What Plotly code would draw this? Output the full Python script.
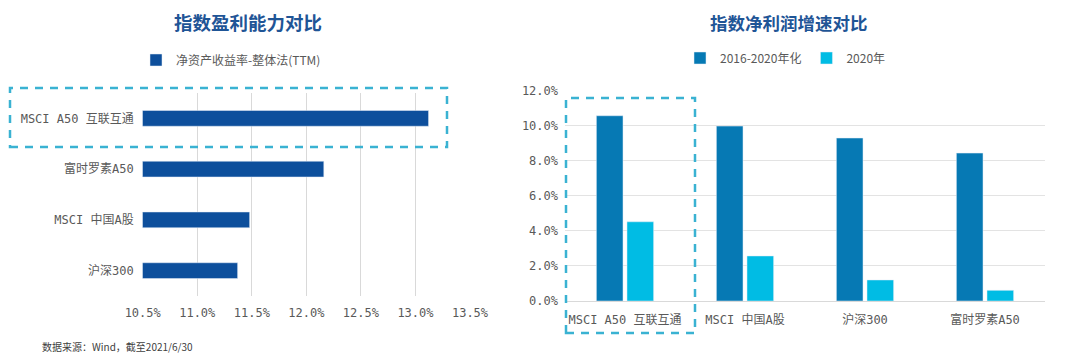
import plotly.graph_objects as go

# Left chart data
roe_categories = ["MSCI A50 互联互通", "富时罗素A50", "MSCI 中国A股", "沪深300"]
roe_values = [13.12, 12.16, 11.48, 11.37]
roe_series_name = "净资产收益率-整体法(TTM)"
roe_ticks = [10.5, 11.0, 11.5, 12.0, 12.5, 13.0, 13.5]

# Right chart data
growth_categories = ["MSCI A50 互联互通", "MSCI 中国A股", "沪深300", "富时罗素A50"]
growth_2016_2020 = [10.57, 9.98, 9.30, 8.44]
growth_2020 = [4.52, 2.57, 1.20, 0.61]
growth_series_names = ["2016-2020年化", "2020年"]
growth_ticks = [0, 2, 4, 6, 8, 10, 12]

# page body has an 8px margin: the figure starts at (8, 8) of the window
OFF = 8
W, H = 1080 - OFF, 356 - OFF
def px(x): return (x - OFF) / W
def py(y): return 1 - (y - OFF) / H

TICK_FONT = dict(family="DejaVu Sans Mono, Noto Sans CJK SC", size=12, color="#595959")
TITLE_COLOR = "#1F5596"
BOX_COLOR = "#3AB2D2"

fig = go.Figure()

fig.add_trace(go.Bar(
    x=roe_values, y=roe_categories, orientation="h",
    name=roe_series_name, marker_color="#0D4F9C", width=0.31,
    xaxis="x", yaxis="y", legend="legend",
))
fig.add_trace(go.Bar(
    x=growth_categories, y=growth_2016_2020, name=growth_series_names[0],
    marker_color="#0679B4", xaxis="x2", yaxis="y2", legend="legend2",
))
fig.add_trace(go.Bar(
    x=growth_categories, y=growth_2020, name=growth_series_names[1],
    marker_color="#00BCE4", xaxis="x2", yaxis="y2", legend="legend2",
))

fig.update_layout(
    width=W, height=H,
    margin=dict(l=0, r=0, t=0, b=0, autoexpand=False),
    paper_bgcolor="white", plot_bgcolor="white",
    barmode="group", bargap=0.49, bargroupgap=0.13,
    font=dict(family="Noto Sans CJK SC, DejaVu Sans", color="#595959"),
    xaxis=dict(
        domain=[px(142.7), px(470)], range=[10.5, 13.5],
        tickvals=roe_ticks, ticktext=[f"{v:.1f}%" for v in roe_ticks],
        showgrid=True, gridcolor="#D9D9D9", gridwidth=1,
        zeroline=False, showline=False, ticks="", automargin=False,
        tickfont=TICK_FONT, ticklabelstandoff=8, anchor="y",
    ),
    yaxis=dict(
        domain=[py(296), py(93)], autorange="reversed",
        showgrid=False, zeroline=False, showline=False, ticks="", automargin=False,
        tickfont=TICK_FONT, ticklabelstandoff=8, anchor="x",
    ),
    xaxis2=dict(
        domain=[px(565), px(1045)],
        showgrid=False, zeroline=False, showline=False, ticks="", automargin=False,
        tickfont=TICK_FONT, ticklabelstandoff=10, anchor="y2",
    ),
    yaxis2=dict(
        domain=[py(301), py(90.7)], range=[0, 12],
        tickvals=growth_ticks, ticktext=[f"{v:.1f}%" for v in growth_ticks],
        showgrid=True, gridcolor="#E3E3E3", gridwidth=1,
        zeroline=True, zerolinecolor="#D9D9D9", zerolinewidth=1,
        showline=False, ticks="", automargin=False,
        tickfont=TICK_FONT, ticklabelstandoff=6, anchor="x2",
    ),
    legend=dict(
        orientation="h", x=px(136), xanchor="left", y=py(60), yanchor="middle",
        font=dict(family="Noto Sans CJK SC", size=12, color="#595959"),
        bgcolor="rgba(0,0,0,0)", itemwidth=30,
    ),
    legend2=dict(
        orientation="h", x=px(680), xanchor="left", y=py(58), yanchor="middle",
        font=dict(family="Noto Sans CJK SC", size=12, color="#595959"),
        bgcolor="rgba(0,0,0,0)", itemwidth=30,
    ),
    showlegend=True,
)

fig.add_annotation(text="<b>指数盈利能力对比</b>", x=px(248), y=py(22), xref="paper", yref="paper",
                   showarrow=False, xanchor="center", yanchor="middle",
                   font=dict(family="Noto Sans CJK SC", size=18.5, color=TITLE_COLOR))
fig.add_annotation(text="<b>指数净利润增速对比</b>", x=px(789), y=py(22), xref="paper", yref="paper",
                   showarrow=False, xanchor="center", yanchor="middle",
                   font=dict(family="Noto Sans CJK SC", size=17.5, color=TITLE_COLOR))
fig.add_annotation(text="数据来源：Wind，截至2021/6/30", x=px(40), y=py(346), xref="paper", yref="paper",
                   showarrow=False, xanchor="left", yanchor="middle",
                   font=dict(family="Noto Sans CJK SC", size=10, color="#404040"))

fig.add_shape(type="rect", xref="paper", yref="paper",
              x0=px(10), x1=px(447), y0=py(147), y1=py(88),
              line=dict(color=BOX_COLOR, width=2.5, dash="8px,7px"))
fig.add_shape(type="rect", xref="paper", yref="paper",
              x0=px(566), x1=px(695), y0=py(333), y1=py(98),
              line=dict(color=BOX_COLOR, width=2.5, dash="8px,7px"))

fig.write_html("out.html")
